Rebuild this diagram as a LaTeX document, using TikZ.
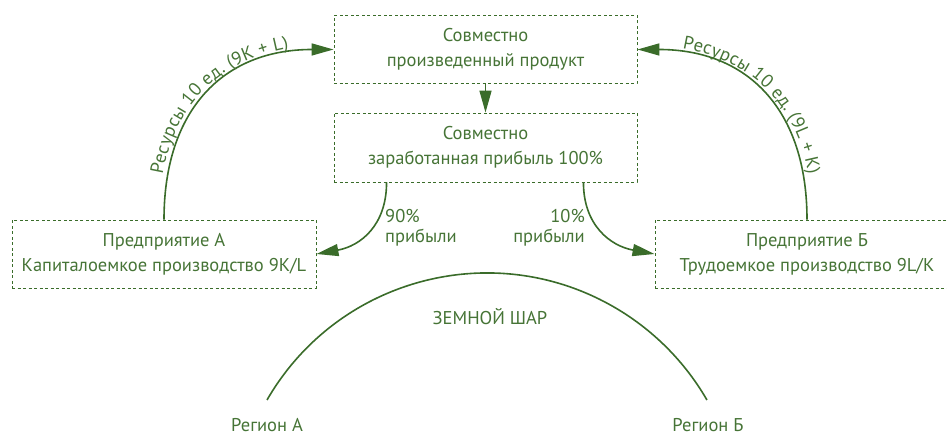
\documentclass[tikz,border=0pt]{standalone}
\usepackage{fontspec}
\setmainfont{PT Sans}
\usetikzlibrary{arrows.meta,calc,decorations.text}
\definecolor{lne}{RGB}{58,108,42}
\definecolor{txt}{RGB}{70,116,54}
\tikzset{
  box/.style={draw=lne, dash pattern=on 3pt off 2.5pt, line width=0.9pt,
    minimum width=303pt, minimum height=68pt, align=center, text=txt,
    inner sep=0pt, font=\fontsize{18.5}{25}\selectfont},
  lbl/.style={text=txt, inner sep=0pt, font=\fontsize{18.5}{20}\selectfont},
  flow/.style={draw=lne, line width=1.6pt, -{Triangle[length=22pt,width=12pt]}},
  plain/.style={draw=lne, line width=1.6pt},
}
\begin{document}
\begin{tikzpicture}[x=1pt,y=1pt]
\useasboundingbox (0,0) rectangle (947,435);
\clip (0,0) rectangle (947,435);
\node[box] (top) at (485.5,385.5) {Совместно\\произведенный продукт};
\node[box, minimum height=69pt] (mid) at (485.5,287.5) {Совместно\\заработанная прибыль 100\%};
\node[box, minimum width=304pt] (A) at (164,181) {Предприятие А\\Капиталоемкое производство 9K/L};
\node[box, minimum width=304pt] (B) at (807,181) {Предприятие Б\\Трудоемкое производство 9L/K};

\draw[flow] (top.south) -- (mid.north);

\coordinate (ml) at ($(mid.south west)+(53,0)$);
\coordinate (mr) at ($(mid.south east)+(-54,0)$);
\draw[flow] (ml) .. controls +(0,-43) and +(44,8) .. (A.east);
\draw[flow] (mr) .. controls +(0,-43) and +(-44,8) .. (B.west);
\node[lbl, anchor=west, align=left] (p90) at (385,207) {90\%\\прибыли};
\node[lbl, anchor=east, align=right] (p10) at (585,207) {10\%\\прибыли};

\draw[flow] (A.north) .. controls +(0,110) and +(-110,0) .. (top.west);
\path[decorate, decoration={text along path, raise=5pt, text align=center,
  text={|\fontsize{18.5}{20}\selectfont\color{txt}|Ресурсы 10 ед. (9K + L)}}]
  (A.north) .. controls +(0,110) and +(-110,0) .. (top.west);
\draw[flow] (B.north) .. controls +(0,110) and +(110,0) .. (top.east);
\path[decorate, decoration={text along path, raise=5pt, text align=center,
  text={|\fontsize{18.5}{20}\selectfont\color{txt}|Ресурсы 10 ед. (9L + K)}}]
  (top.east) .. controls +(110,0) and +(0,110) .. (B.north);

\coordinate (gl) at (267,35);
\draw[plain] (gl) arc[start angle=150, end angle=30, radius=254pt] coordinate (gr);
\node[lbl] (earth) at (490,118) {ЗЕМНОЙ ШАР};
\node[lbl] (ra) at (267,10) {Регион А};
\node[lbl] (rb) at (708,10) {Регион Б};
\end{tikzpicture}
\end{document}
